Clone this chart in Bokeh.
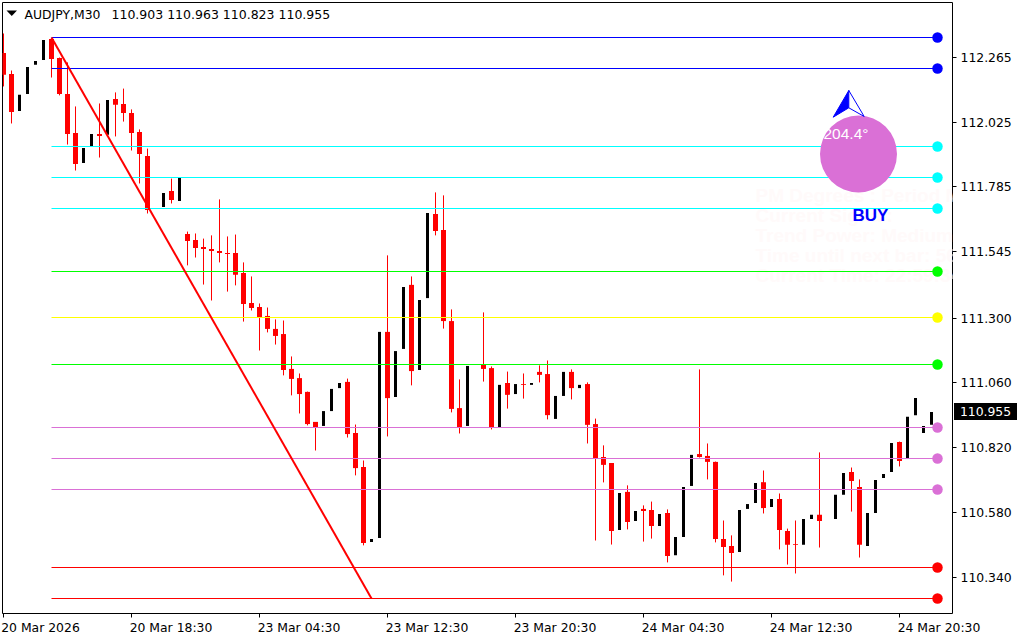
from bokeh.plotting import figure
from bokeh.layouts import column
from bokeh.models import Range1d, FixedTicker, Label, NumeralTickFormatter, LinearAxis, Div
from bokeh.core.properties import value
from bokeh.embed import file_html
from bokeh.resources import INLINE

# ---- data ----
red_i = [0,1,6,7,8,9,12,14,15,16,17,18,21,23,24,25,26,27,28,29,30,31,32,33,34,35,36,37,38,39,43,44,45,48,51,54,55,56,57,60,61,63,65,67,68,71,73,74,75,76,78,80,81,83,87,88,89,90,91,95,97,98,99,102,106,107,112]
red_high = [112.353,112.216,112.334,112.264,112.246,112.083,112.094,112.135,112.149,112.072,111.998,111.927,111.816,111.620,111.613,111.594,111.606,111.739,111.602,111.609,111.506,111.454,111.354,111.339,111.295,111.291,111.158,111.095,111.028,110.914,111.076,110.906,110.773,111.532,111.454,111.765,111.754,111.332,111.073,111.321,111.121,111.102,111.095,111.125,111.143,111.110,111.062,110.928,110.829,110.762,110.681,110.607,110.621,110.592,111.110,110.836,110.769,110.551,110.496,110.736,110.651,110.521,110.551,110.803,110.747,110.703,110.843]
red_open = [112.279,112.201,112.331,112.260,112.127,111.983,111.979,112.109,112.090,112.057,111.987,111.898,111.768,111.609,111.587,111.561,111.554,111.546,111.539,111.539,111.465,111.354,111.339,111.306,111.258,111.239,111.110,111.076,111.025,110.914,111.062,110.873,110.747,111.247,111.421,111.683,111.624,111.287,110.965,111.128,111.113,111.058,111.054,111.099,111.091,111.099,111.054,110.906,110.784,110.762,110.655,110.592,110.588,110.577,110.795,110.788,110.766,110.481,110.455,110.691,110.629,110.510,110.462,110.570,110.729,110.673,110.840]
red_close = [112.198,112.061,112.257,112.127,111.979,111.868,111.972,112.087,112.057,111.983,111.905,111.698,111.735,111.583,111.557,111.554,111.546,111.539,111.535,111.458,111.350,111.335,111.302,111.258,111.232,111.106,111.073,111.017,110.906,110.895,110.869,110.743,110.466,111.002,111.102,111.620,111.287,110.962,110.895,111.110,110.895,111.014,111.051,111.088,110.939,111.039,110.903,110.780,110.755,110.510,110.544,110.584,110.529,110.418,110.784,110.766,110.481,110.451,110.429,110.595,110.514,110.459,110.459,110.547,110.695,110.459,110.769]
red_low = [112.157,112.020,112.190,112.124,111.942,111.846,111.894,111.972,112.027,111.920,111.798,111.687,111.724,111.495,111.524,111.424,111.365,111.506,111.398,111.421,111.287,111.328,111.180,111.247,111.202,111.088,111.014,110.947,110.903,110.810,110.858,110.718,110.459,110.862,111.051,111.606,111.261,110.951,110.873,111.065,110.888,110.965,111.002,111.062,110.925,110.999,110.836,110.477,110.692,110.462,110.518,110.473,110.484,110.396,110.784,110.703,110.470,110.348,110.325,110.577,110.444,110.388,110.355,110.451,110.584,110.414,110.751]

black_i = [2,3,4,5,10,11,13,20,22,40,41,42,46,47,49,50,52,53,58,62,64,66,69,70,72,77,79,82,84,85,86,92,93,94,96,100,101,104,105,108,109,110,111,113,114,115,116]
black_high = [112.124,112.227,112.249,112.327,111.927,111.979,112.105,111.761,111.816,110.954,111.036,111.058,110.481,111.247,111.176,111.413,111.365,111.687,111.121,111.051,111.054,111.058,111.010,111.099,111.051,110.651,110.584,110.573,110.488,110.673,110.792,110.588,110.610,110.688,110.629,110.555,110.570,110.644,110.725,110.577,110.699,110.721,110.836,110.933,111.002,110.899,110.951]
black_low = [112.064,112.127,112.235,112.253,111.872,111.935,111.976,111.709,111.731,110.899,110.954,111.039,110.470,110.484,111.006,111.184,111.106,111.372,110.899,110.895,111.017,111.051,110.925,111.010,111.039,110.514,110.547,110.529,110.421,110.488,110.677,110.433,110.592,110.614,110.599,110.459,110.555,110.555,110.644,110.455,110.577,110.706,110.729,110.780,110.939,110.873,110.903]

level_prices = [112.3381,112.2234,111.9348,111.8201,111.7054,111.4723,111.3021,111.1282,110.8951,110.7804,110.6657,110.3771,110.2624]
level_colors = ["#0000FF","#0000FF","#00FFFF","#00FFFF","#00FFFF","#00FF00","#FFFF00","#00FF00","#DA70D6","#DA70D6","#DA70D6","#FF0000","#FF0000"]

trend_i = [6,46]
trend_price = [112.3381,110.2624]

y_ticks = [112.265,112.025,111.785,111.545,111.300,111.060,110.820,110.580,110.340]
x_ticks = [0,16,32,48,64,80,96,112]
x_labels = ["20 Mar 2026","20 Mar 18:30","23 Mar 04:30","23 Mar 12:30","23 Mar 20:30","24 Mar 04:30","24 Mar 12:30","24 Mar 20:30"]

symbol = "AUDJPY,M30"
ohlc = "110.903 110.963 110.823 110.955"
last_price = "110.955"
info_rows = ["PM Degrees : Period M30","Current Signal:","Trend Power: Medium","Time until next bar: 56:25","Current Time: 22:59:34"]

# pixel helpers for annotations
def ix(px):
    return (px - 3) / 8
def py(row):
    return 112.475 - 0.0037 * row

NUDGE = 0.00185  # half a pixel, keeps candle bodies on pixel rows
FONT = "DejaVu Sans"
p = figure(width=1024, height=640, output_backend="svg", toolbar_location=None,
           x_range=Range1d(ix(2), ix(952)), y_range=Range1d(py(613), py(2)),
           y_axis_location="right", x_axis_location=None, min_border_left=2, min_border_right=72,
           min_border_top=2, min_border_bottom=27, background_fill_color="white",
           border_fill_color="white")
p.grid.visible = False
p.outline_line_color = "black"
p.outline_line_width = 1

p.yaxis.ticker = FixedTicker(ticks=y_ticks)
p.yaxis.formatter = NumeralTickFormatter(format="0.000")
p.yaxis.major_tick_out = 4
p.yaxis.major_tick_in = 0
p.yaxis.minor_tick_line_color = None
p.yaxis.axis_line_color = None
p.yaxis.major_tick_line_color = "black"
p.yaxis.major_label_standoff = 4
p.yaxis.major_label_text_font = FONT
p.yaxis.major_label_text_font_size = "12.4px"
p.yaxis.major_label_text_color = "black"

# tick marks on the ticks, labels on a second axis just below, shifted so each starts at its tick
tick_axis = LinearAxis(ticker=FixedTicker(ticks=x_ticks), major_tick_out=4, major_tick_in=0,
                       minor_tick_line_color=None, axis_line_color=None, major_tick_line_color="black",
                       major_label_text_font_size="0px", major_label_standoff=0,
                       major_label_overrides={t: "" for t in x_ticks})
p.add_layout(tick_axis, "below")
label_pos = [t + 39.5 / 8 for t in x_ticks]
label_pos[0] = x_ticks[0] + 37 / 8
label_axis = LinearAxis(ticker=FixedTicker(ticks=label_pos), major_tick_line_color=None, major_tick_out=0,
                        major_tick_in=0, minor_tick_line_color=None, minor_tick_out=0, axis_line_color=None,
                        major_label_standoff=2,
                        major_label_text_font=FONT, major_label_text_font_size="12.4px",
                        major_label_text_color="black",
                        major_label_overrides=dict(zip(label_pos, x_labels)))
p.add_layout(label_axis, "below")

# faint info block
p.text(x=[ix(755)] * 5, y=[py(r) for r in (195, 215, 235, 255, 275)], text=info_rows,
       text_font=value("Liberation Sans"), text_font_style="bold", text_font_size="19px",
       text_color="#FFFAFA", text_baseline="middle", text_align="left")

# candles
p.segment(x0=red_i, y0=red_low, x1=red_i, y1=red_high, color="#FF0000", line_width=1)
p.quad(left=[i - 2.5 / 8 for i in red_i], right=[i + 2.5 / 8 for i in red_i],
       top=[v + NUDGE for v in red_open], bottom=[v + NUDGE for v in red_close], fill_color="#FF0000", line_color=None)
p.quad(left=[i - 1.5 / 8 for i in black_i], right=[i + 1.5 / 8 for i in black_i],
       top=[v + NUDGE for v in black_high], bottom=[v + NUDGE for v in black_low], fill_color="black", line_color=None)

# level lines
p.segment(x0=[6] * len(level_prices), y0=level_prices, x1=[ix(937)] * len(level_prices), y1=level_prices,
          color=level_colors, line_width=1)
p.scatter(x=[ix(937)] * len(level_prices), y=level_prices, size=10.5, marker="circle",
          fill_color=level_colors, line_color=None)

# trend line
p.line(x=trend_i, y=trend_price, color="#FF0000", line_width=2)

# degree widget
p.scatter(x=[ix(858)], y=[py(153.5)], size=77, marker="circle", fill_color="#DA70D6", line_color=None)
p.patch(x=[ix(848.3), ix(832.7), ix(848.3)], y=[py(90), py(116.7), py(107.3)], fill_color="#0000FF", line_color="#0000FF", line_width=1)
p.patch(x=[ix(848.3), ix(863.7), ix(848.3)], y=[py(90), py(116), py(107.3)], fill_color="white", line_color="#0000FF", line_width=1)
p.add_layout(Label(x=ix(823), y=py(133), text="204.4°", text_color="white", text_font="Liberation Sans",
                   text_font_size="15.5px", text_baseline="middle", text_align="left"))
p.add_layout(Label(x=ix(852), y=py(215), text="BUY", text_color="#0000FF", text_font="Liberation Sans",
                   text_font_style="bold", text_font_size="17px", text_baseline="middle", text_align="left"))

# header
p.add_layout(Label(x=ix(24), y=py(14), text=symbol, text_color="black", text_font=FONT,
                   text_font_size="12.4px", text_baseline="middle", text_align="left"))
p.add_layout(Label(x=ix(111), y=py(14), text=ohlc, text_color="black", text_font=FONT,
                   text_font_size="12.5px", text_baseline="middle", text_align="left"))
p.patch(x=[ix(6), ix(16.5), ix(11.25)], y=[py(10), py(10), py(15.5)], fill_color="black", line_color=None)

# current price tag: an element laid over the axis
tag = Div(text=last_price, width=63, height=17,
          styles={"position": "absolute", "left": "954px", "top": "403px", "background": "black",
                  "color": "white", "font-family": FONT, "font-size": "12.4px", "line-height": "17px",
                  "text-align": "center", "z-index": "10", "margin": "0", "padding": "0"})

page = column(p, tag, spacing=0, width=1024, height=640)
open("out.html", "w").write(file_html(page, INLINE))
